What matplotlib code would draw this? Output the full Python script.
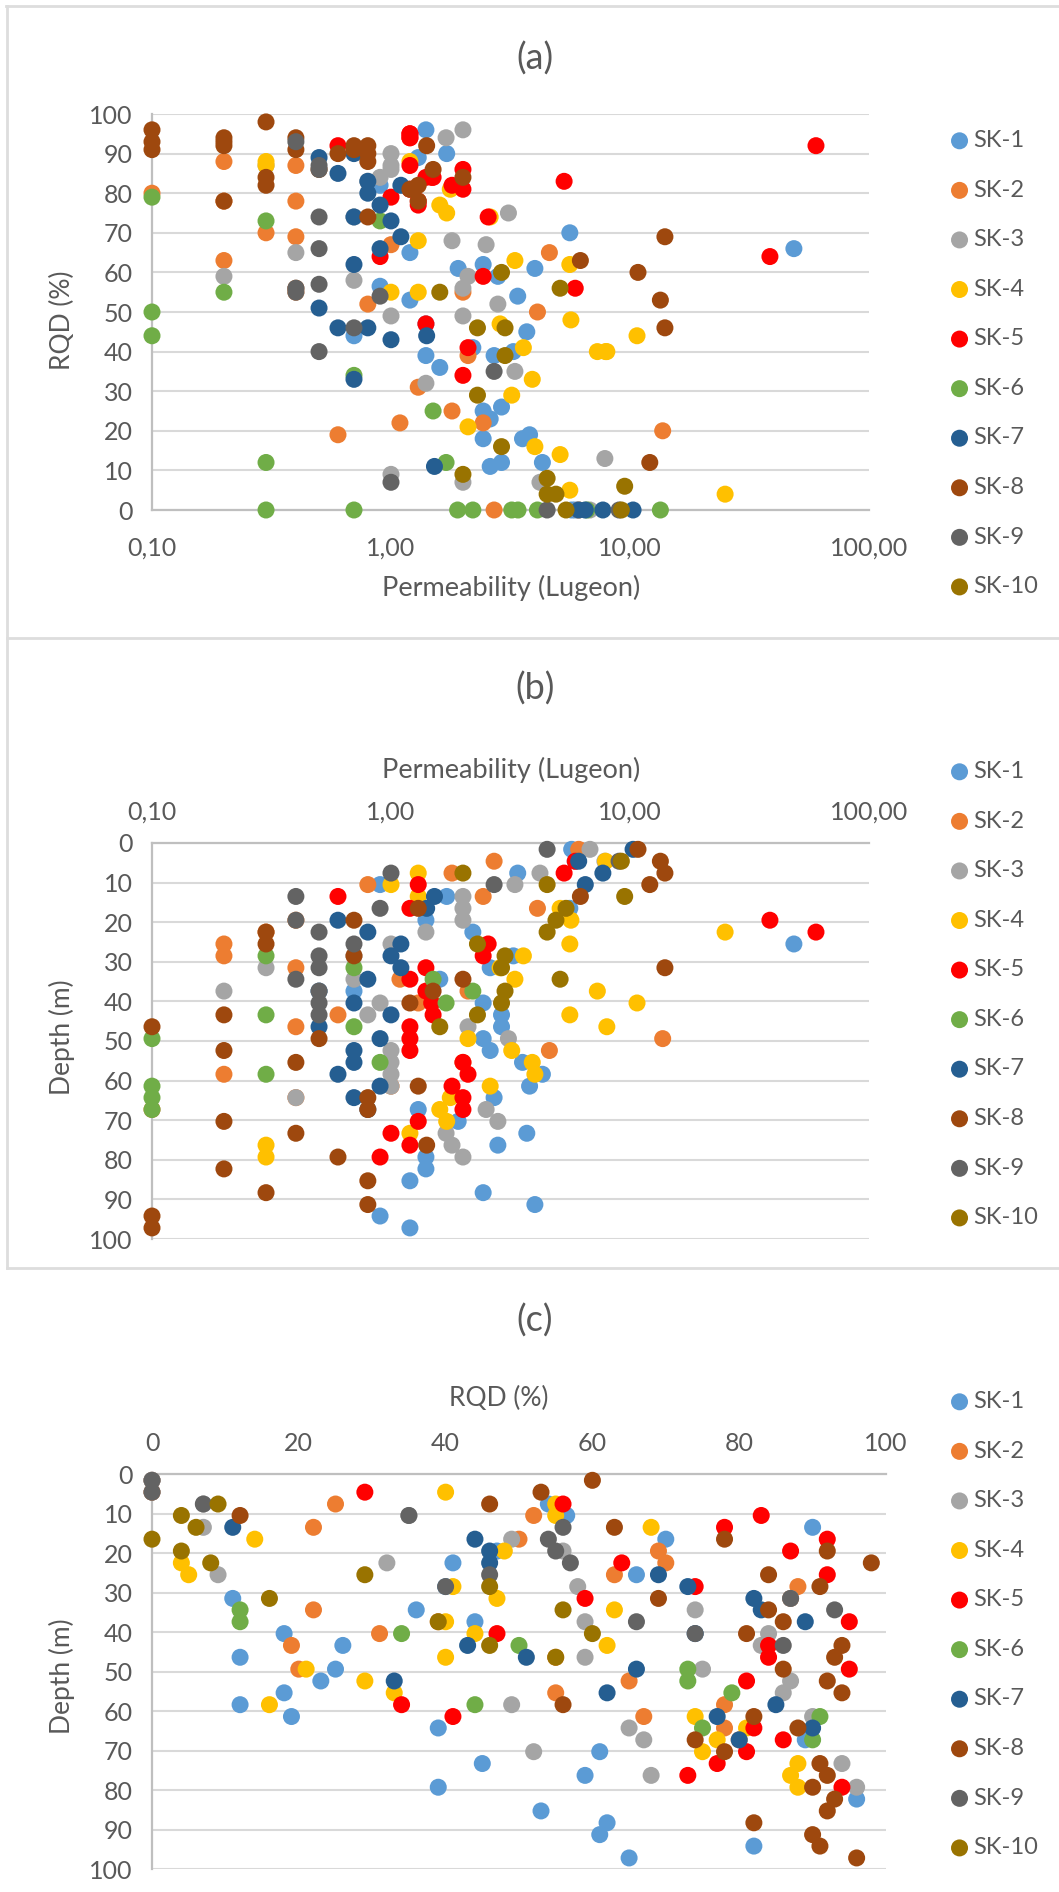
import matplotlib
matplotlib.use("Agg")
import matplotlib.pyplot as plt
from matplotlib.lines import Line2D

W, H = 1059, 1892
TXT = "#595959"
plt.rcParams["font.family"] = ["Lato", "DejaVu Sans"]

names = ["SK-1", "SK-2", "SK-3", "SK-4", "SK-5", "SK-6", "SK-7", "SK-8", "SK-9", "SK-10"]
colors = ["#5B9BD5", "#ED7D31", "#A5A5A5", "#FFC000", "#FF0000",
          "#70AD47", "#255E91", "#9E480E", "#636363", "#997300"]
perm_ticks = [0.1, 1, 10, 100]
perm_labels = ["0,10", "1,00", "10,00", "100,00"]

# SK-1
sk1_perm = [5.7, 5.9, 3.39, 0.9, 1.71, 5.6, 1.4, 2.2, 48.5, 3.25, 2.6, 1.6, 0.7, 2.43, 2.9, 2.9, 2.43,
            2.6, 3.55, 4.3, 3.8, 2.7, 1.3, 1.91, 3.7, 2.8, 1.4, 1.4, 1.2, 2.43, 4.0, 0.9, 1.2]
sk1_rqd = [0, 0, 54, 56.5, 90, 70, 47, 41, 66, 40, 11, 36, 44, 18, 26, 12, 25,
           23, 18, 12, 19, 39, 89, 61, 45, 59, 39, 96, 53, 62, 61, 82, 65]
sk1_depth = [1.6, 4.6, 7.6, 10.5, 13.5, 16.5, 19.5, 22.5, 25.5, 28.5, 31.5, 34.4, 37.4, 40.4, 43.4, 46.4, 49.4,
             52.4, 55.4, 58.4, 61.4, 64.3, 67.3, 70.3, 73.3, 76.3, 79.3, 82.3, 85.3, 88.3, 91.3, 94.2, 97.2]

# SK-2
sk2_perm = [6.1, 2.7, 1.8, 0.8, 2.43, 4.1, 0.4, 0.3, 0.2, 0.2, 0.4, 1.09, 2.1, 1.3, 0.6, 0.4, 13.7,
            4.6, 2.0, 0.2, 1.0, 0.4, 0.1]
sk2_rqd = [0, 0, 25, 52, 22, 50, 69, 70, 63, 88, 87, 22, 39, 31, 19, 55, 20,
           65, 55, 78, 67, 78, 80]
sk2_depth = [1.6, 4.6, 7.6, 10.5, 13.5, 16.5, 19.5, 22.5, 25.5, 28.5, 31.5, 34.4, 37.4, 40.4, 43.4, 46.4, 49.4,
             52.4, 55.4, 58.4, 61.4, 64.3, 67.3]

# SK-3 (first point does not show in panel c)
sk3_perm = [7.85, 6.8, 4.2, 3.3, 2.0, 2.0, 2.0, 1.4, 1.0, 0.7, 0.3, 0.7, 0.2, 0.9, 0.8, 2.1, 3.1,
            1.0, 1.0, 1.0, 1.0, 0.4, 2.5, 2.8, 1.7, 1.8, 2.0]
sk3_rqd = [13, 0, 7, 35, 7, 49, 56, 32, 9, 58, 87, 74, 59, 84, 83, 59, 75,
           87, 86, 49, 90, 65, 67, 52, 94, 68, 96]
sk3_depth = [4.6, 1.6, 7.6, 10.5, 13.5, 16.5, 19.5, 22.5, 25.5, 28.5, 31.5, 34.4, 37.4, 40.4, 43.4, 46.4, 49.4,
             52.4, 55.4, 58.4, 61.4, 64.3, 67.3, 70.3, 73.3, 76.3, 79.3]

# SK-4
sk4_perm = [7.9, 1.3, 1.0, 1.3, 5.1, 5.66, 25, 5.6, 3.58, 2.86, 3.3, 7.3, 10.7, 5.6, 8.0, 2.1,
            3.2, 3.9, 4.0, 2.6, 1.77, 1.6, 1.71, 1.2, 0.3, 0.3]
sk4_rqd = [40, 55, 55, 68, 14, 48, 4, 5, 41, 47, 63, 40, 44, 62, 40, 21,
           29, 33, 16, 74, 81, 77, 75, 88, 87, 88]
sk4_depth = [4.6, 7.6, 10.5, 13.5, 16.5, 19.5, 22.5, 25.5, 28.5, 31.5, 34.4, 37.4, 40.4, 43.4, 46.4, 49.4,
             52.4, 55.4, 58.4, 61.4, 64.3, 67.3, 70.3, 73.3, 76.3, 79.3]

# SK-5, the three panels do not line up row by row
sk5_perm_b = [5.9, 5.3, 1.3, 0.6, 1.2, 38.5, 60, 2.55, 2.43, 1.4, 1.2, 1.4, 1.48, 1.5, 1.2, 1.2,
              1.2, 2.0, 2.1, 1.8, 2.0, 2.0, 1.3, 1.0, 1.2, 0.9]
sk5_depth_b = [4.6, 7.6, 10.5, 13.5, 16.5, 19.5, 22.5, 25.5, 28.5, 31.5, 34.4, 37.4, 40.4, 43.4, 46.4, 49.4,
               52.4, 55.4, 58.4, 61.4, 64.3, 67.3, 70.3, 73.3, 76.3, 79.3]
sk5_rqd_c = [29, 56, 83, 78, 92, 87, 64, 92, 74, 59, 95, 47, 84, 84, 95, 81,
             34, 41, 82, 86, 81, 77, 73, 94]
sk5_depth_c = [4.6, 7.6, 10.5, 13.5, 16.5, 19.5, 22.5, 25.5, 28.5, 31.5, 37.4, 40.4, 43.4, 46.4, 49.4, 52.4,
               58.4, 61.4, 64.3, 67.3, 70.3, 73.3, 76.3, 79.3]
sk5_perm_a = [5.9, 5.3, 1.3, 0.6, 1.2, 38.5, 60, 2.55, 2.43, 1.4, 1.2, 1.4, 1.48, 1.5, 1.2, 1.2,
              1.2, 2.0, 2.1, 1.8, 2.0, 2.0, 1.3, 1.0, 1.2, 0.9]
sk5_rqd_a = [56, 83, 78, 92, 87, 64, 92, 74, 59, 84, 95, 47, 84, 84, 95, 81,
             94, 34, 41, 82, 86, 81, 77, 79, 94, 64]

# SK-6, the zero RQD points only show in panel a
sk6_perm_b = [0.3, 0.7, 1.5, 2.2, 1.7, 0.3, 0.7, 0.1, 0.9, 0.3, 0.1, 0.1, 0.1]
sk6_depth_b = [28.5, 31.5, 34.4, 37.4, 40.4, 43.4, 46.4, 49.4, 55.4, 58.4, 61.4, 64.3, 67.3]
sk6_rqd_c = [12, 12, 34, 50, 73, 73, 79, 44, 91, 75, 90]
sk6_depth_c = [34.4, 37.4, 40.4, 43.4, 49.4, 52.4, 55.4, 58.4, 61.4, 64.3, 67.3]
sk6_perm_a = [0.1, 0.1, 0.1, 0.2, 0.3, 0.9, 0.7, 1.5, 1.7, 0.3, 0.3, 0.7, 1.9, 2.2, 3.2, 3.4, 4.1, 6.6, 13.4]
sk6_rqd_a = [79, 50, 44, 55, 73, 73, 34, 25, 12, 12, 0, 0, 0, 0, 0, 0, 0, 0, 0]

# SK-7 (first four are RQD 0, not shown in panel c)
sk7_perm = [10.3, 6.1, 7.7, 6.5, 1.52, 1.41, 0.6, 0.8, 1.1, 1.0, 1.1, 0.8, 0.5, 0.7, 1.0, 0.5, 0.9,
            0.7, 0.7, 0.6, 0.9, 0.7, 0.8]
sk7_rqd = [0, 0, 0, 0, 11, 44, 46, 46, 69, 73, 82, 83, 89, 74, 43, 51, 66,
           33, 62, 85, 77, 90, 80]
sk7_depth = [1.6, 4.6, 7.6, 10.5, 13.5, 16.5, 19.5, 22.5, 25.5, 28.5, 31.5, 34.4, 37.4, 40.4, 43.4, 46.4, 49.4,
             52.4, 55.4, 58.4, 61.4, 64.3, 67.3]

# SK-8 (first point does not show in panel b)
sk8_perm = [0.4, 10.8, 13.4, 14, 12.1, 6.2, 1.3, 0.7, 0.3, 0.3, 0.7, 14, 2.0, 1.5, 1.2, 0.2, 0.1, 0.5,
            0.2, 0.4, 1.3, 0.8, 0.8, 0.2, 0.4, 1.41, 0.6, 0.2, 0.8, 0.3, 0.8, 0.1, 0.1]
sk8_rqd = [56, 60, 53, 46, 12, 63, 78, 92, 98, 84, 91, 69, 84, 86, 81, 94, 93, 86,
           92, 94, 82, 88, 74, 78, 91, 92, 90, 93, 92, 82, 90, 91, 96]
sk8_depth = [58.4, 1.6, 4.6, 7.6, 10.5, 13.5, 16.5, 19.5, 22.5, 25.5, 28.5, 31.5, 34.4, 37.4, 40.4, 43.4, 46.4, 49.4,
             52.4, 55.4, 61.4, 64.3, 67.3, 70.3, 73.3, 76.3, 79.3, 82.3, 85.3, 88.3, 91.3, 94.2, 97.2]

# SK-9
sk9_perm = [4.5, 9.0, 1.0, 2.7, 0.4, 0.9, 0.4, 0.5, 0.7, 0.5, 0.5, 0.4, 0.5, 0.5, 0.5]
sk9_rqd = [0, 0, 7, 35, 56, 54, 55, 57, 46, 40, 87, 93, 66, 74, 86]
sk9_depth = [1.6, 4.6, 7.6, 10.5, 13.5, 16.5, 19.5, 22.5, 25.5, 28.5, 31.5, 34.4, 37.4, 40.4, 43.4]

# SK-10 (first point does not show in panel c)
sk10_perm = [9.2, 2.0, 4.5, 9.5, 5.4, 4.9, 4.5, 2.3, 3.0, 2.9, 5.1, 3.0, 2.9, 2.3, 1.6]
sk10_rqd = [0, 9, 4, 6, 0, 4, 8, 29, 46, 16, 56, 39, 60, 46, 55]
sk10_depth = [4.6, 7.6, 10.5, 13.5, 16.5, 19.5, 22.5, 25.5, 28.5, 31.5, 34.4, 37.4, 40.4, 43.4, 46.4]

panel_a = [(sk1_perm, sk1_rqd), (sk2_perm, sk2_rqd), (sk3_perm, sk3_rqd), (sk4_perm, sk4_rqd),
           (sk5_perm_a, sk5_rqd_a), (sk6_perm_a, sk6_rqd_a), (sk7_perm, sk7_rqd), (sk8_perm, sk8_rqd),
           (sk9_perm, sk9_rqd), (sk10_perm, sk10_rqd)]
panel_b = [(sk1_perm, sk1_depth), (sk2_perm, sk2_depth), (sk3_perm, sk3_depth), (sk4_perm, sk4_depth),
           (sk5_perm_b, sk5_depth_b), (sk6_perm_b, sk6_depth_b), (sk7_perm, sk7_depth),
           (sk8_perm[1:], sk8_depth[1:]), (sk9_perm, sk9_depth), (sk10_perm, sk10_depth)]
panel_c = [(sk1_rqd, sk1_depth), (sk2_rqd, sk2_depth), (sk3_rqd[1:], sk3_depth[1:]), (sk4_rqd, sk4_depth),
           (sk5_rqd_c, sk5_depth_c), (sk6_rqd_c, sk6_depth_c), (sk7_rqd[4:], sk7_depth[4:]), (sk8_rqd, sk8_depth),
           (sk9_rqd, sk9_depth), (sk10_rqd[1:], sk10_depth[1:])]


def make_axes(left, top, right, bottom):
    return fig.add_axes([left / W, 1 - bottom / H, (right - left) / W, (bottom - top) / H])


def fig_text(x, y, s, **kw):
    fig.text(x / W, 1 - y / H, s, color=TXT, ha="center", va="center", **kw)


def draw_panel(ax, data, legend_top):
    for (xs, ys), name, col in zip(data, names, colors):
        ax.scatter(xs, ys, s=150, color=col, edgecolors="none", label=name, clip_on=False, zorder=3)
    ax.set_ylim(0, 100)
    ax.set_yticks(range(0, 101, 10))
    ax.grid(axis="y", color="#D9D9D9", lw=1.5)
    ax.set_axisbelow(True)
    ax.tick_params(length=0, labelsize=18, labelcolor=TXT, pad=14)
    ax.tick_params(axis="x", which="minor", length=0)
    ax.spines[["right"]].set_visible(False)
    for s in ax.spines.values():
        s.set_color("#BFBFBF")
        s.set_linewidth(1.6)
    ax.legend(loc="upper left", bbox_to_anchor=(943 / W, 1 - legend_top / H),
              bbox_transform=fig.transFigure, frameon=False, fontsize=17, labelcolor=TXT,
              labelspacing=1.21, handletextpad=-0.1, handlelength=1.4, borderpad=0, borderaxespad=0)


fig = plt.figure(figsize=(W / 100, H / 100), dpi=100, facecolor="white")

# panel frame
for x0, y0, x1, y1 in [(6, 6, W, 6), (7, 6, 7, 1268), (7, 638, W, 638), (7, 1268, W, 1268)]:
    fig.add_artist(Line2D([x0 / W, x1 / W], [1 - y0 / H, 1 - y1 / H], color="#DDDDDD", lw=2))

# (a)
ax1 = make_axes(152, 114, 869, 510)
draw_panel(ax1, panel_a, 130)
ax1.set_xscale("log")
ax1.set_xlim(0.1, 100)
ax1.set_xticks(perm_ticks, perm_labels)
ax1.spines["top"].set_visible(False)
ax1.tick_params(axis="x", pad=19)
fig_text(535, 59, "(a)", fontsize=26)
fig_text(511, 588, "Permeability (Lugeon)", fontsize=19.5)
fig_text(62, 320, "RQD (%)", fontsize=19, rotation=90)

# (b)
ax2 = make_axes(152, 843, 869, 1239)
draw_panel(ax2, panel_b, 761)
ax2.set_xscale("log")
ax2.set_xlim(0.1, 100)
ax2.set_xticks(perm_ticks, perm_labels)
ax2.invert_yaxis()
ax2.xaxis.tick_top()
ax2.spines["bottom"].set_visible(False)
ax2.tick_params(axis="x", pad=14)
fig_text(535, 689, "(b)", fontsize=26)
fig_text(511, 770, "Permeability (Lugeon)", fontsize=19.5)
fig_text(62, 1037, "Depth (m)", fontsize=19, rotation=90)

# (c)
ax3 = make_axes(152, 1474, 886, 1869)
draw_panel(ax3, panel_c, 1391)
ax3.set_xlim(0, 100)
ax3.set_xticks(range(0, 101, 20))
ax3.invert_yaxis()
ax3.xaxis.tick_top()
ax3.spines["bottom"].set_visible(False)
ax3.tick_params(axis="x", pad=14)
fig_text(535, 1321, "(c)", fontsize=26)
fig_text(499, 1398, "RQD (%)", fontsize=19)
fig_text(62, 1676, "Depth (m)", fontsize=19, rotation=90)

fig.savefig("out.png", dpi=100)
